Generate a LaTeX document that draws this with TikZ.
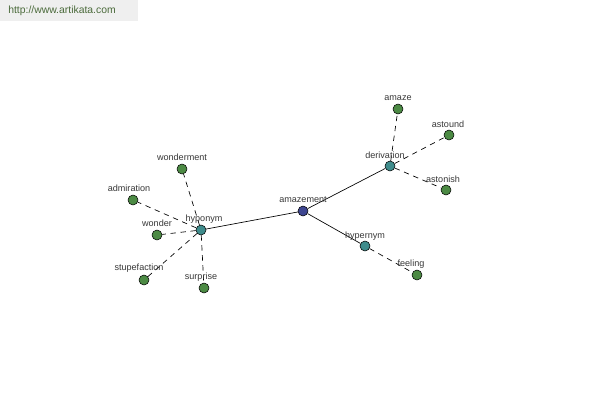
\documentclass[tikz,border=0pt]{standalone}
\usepackage{fontspec}
\setmainfont{Liberation Sans}
\definecolor{leafgreen}{HTML}{4C8A44}
\definecolor{midteal}{HTML}{3F8C8C}
\definecolor{rootblue}{HTML}{3D4590}
\definecolor{urlgray}{HTML}{EFEFEF}
\definecolor{urltext}{HTML}{4A6A3A}
\definecolor{labtext}{HTML}{383838}
\begin{document}
\begin{tikzpicture}[x=0.75pt,y=-0.75pt,
  dot/.style={circle,draw=black,line width=0.4pt,minimum size=7.5pt,inner sep=0pt},
  leaf/.style={dot,fill=leafgreen},
  rel/.style={dot,fill=midteal},
  root/.style={dot,fill=rootblue},
  lab/.style={font=\fontsize{6.8}{8}\selectfont,text=labtext,inner sep=0pt},
  solidedge/.style={draw=black,line width=0.5pt},
  dashedge/.style={draw=black,line width=0.5pt,dash pattern=on 4pt off 3.5pt}]
\useasboundingbox (0,0) rectangle (600,400);
\fill[white] (0,0) rectangle (600,400);
\fill[urlgray] (0,0) rectangle (138,21);
\node[font=\fontsize{7.8}{9}\selectfont,text=urltext,anchor=west,inner sep=0pt] (url) at (8,11) {http://www.artikata.com};
% nodes
\node[root] (amazement) at (303,211) {};
\node[rel] (hyponym) at (201,230) {};
\node[rel] (derivation) at (390,166) {};
\node[rel] (hypernym) at (365,246) {};
\node[leaf] (feeling) at (417,275) {};
\node[leaf] (amaze) at (398,109) {};
\node[leaf] (astound) at (449,135) {};
\node[leaf] (astonish) at (446,190) {};
\node[leaf] (wonderment) at (182,169) {};
\node[leaf] (admiration) at (133,200) {};
\node[leaf] (wonder) at (157,235) {};
\node[leaf] (stupefaction) at (144,280) {};
\node[leaf] (surprise) at (204,288) {};
% edges
\path[solidedge] (amazement) -- (hyponym);
\path[solidedge] (amazement) -- (derivation);
\path[solidedge] (amazement) -- (hypernym);
\path[dashedge] (hypernym) -- (feeling);
\path[dashedge] (derivation) -- (amaze);
\path[dashedge] (derivation) -- (astound);
\path[dashedge] (derivation) -- (astonish);
\path[dashedge] (hyponym) -- (wonderment);
\path[dashedge] (hyponym) -- (admiration);
\path[dashedge] (hyponym) -- (wonder);
\path[dashedge] (hyponym) -- (stupefaction);
\path[dashedge] (hyponym) -- (surprise);
% labels
\node[lab] (l-amazement) at (303,200) {amazement};
\node[lab] (l-hyponym) at (204,219) {hyponym};
\node[lab] (l-derivation) at (385,155) {derivation};
\node[lab] (l-hypernym) at (365,236) {hypernym};
\node[lab] (l-feeling) at (411,264) {feeling};
\node[lab] (l-amaze) at (398,98) {amaze};
\node[lab] (l-astound) at (448,124) {astound};
\node[lab] (l-astonish) at (443,179) {astonish};
\node[lab] (l-wonderment) at (182,157) {wonderment};
\node[lab] (l-admiration) at (129,188) {admiration};
\node[lab] (l-wonder) at (157,223) {wonder};
\node[lab] (l-stupefaction) at (139,268) {stupefaction};
\node[lab] (l-surprise) at (201,277) {surprise};
\end{tikzpicture}
\end{document}
